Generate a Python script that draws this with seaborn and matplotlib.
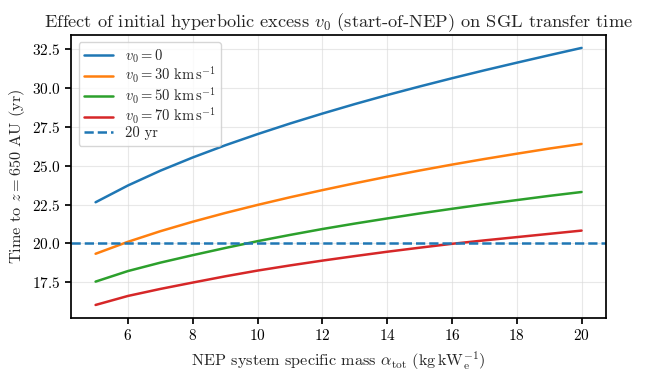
import numpy as np
import pandas as pd
import matplotlib
matplotlib.use("Agg")
import matplotlib.pyplot as plt
import seaborn as sns

# values
alpha = [5, 6, 7, 8, 9, 10, 11, 12, 13, 14, 15, 16, 17, 18, 19, 20]
t_v0 = [22.65, 23.73, 24.68, 25.53, 26.31, 27.03, 27.71, 28.35, 28.96, 29.54, 30.09, 30.62, 31.13, 31.62, 32.10, 32.57]
t_v30 = [19.34, 20.11, 20.79, 21.40, 21.96, 22.48, 22.97, 23.43, 23.87, 24.29, 24.69, 25.07, 25.43, 25.77, 26.10, 26.40]
t_v50 = [17.55, 18.23, 18.77, 19.25, 19.71, 20.15, 20.55, 20.93, 21.28, 21.61, 21.93, 22.23, 22.52, 22.79, 23.06, 23.31]
t_v70 = [16.05, 16.63, 17.08, 17.49, 17.89, 18.26, 18.59, 18.90, 19.19, 19.47, 19.73, 19.98, 20.20, 20.41, 20.62, 20.83]
labels = [r"$v_0 = 0$",
          r"$v_0 = 30\ \mathrm{km\,s^{-1}}$",
          r"$v_0 = 50\ \mathrm{km\,s^{-1}}$",
          r"$v_0 = 70\ \mathrm{km\,s^{-1}}$"]
target = 20

df = pd.concat([
    pd.DataFrame({"alpha": alpha, "t": t, "case": lab})
    for t, lab in zip([t_v0, t_v30, t_v50, t_v70], labels)
])

sns.set_theme(style="ticks")
plt.rcParams.update({
    "font.family": "serif",
    "font.serif": ["cmr10"],
    "mathtext.fontset": "cm",
    "axes.formatter.use_mathtext": True,
    "axes.unicode_minus": False,
    "font.size": 11,
    "axes.edgecolor": "black",
    "xtick.color": "black",
    "ytick.color": "black",
})

fig, ax = plt.subplots(figsize=(6.48, 3.77), dpi=100)
fig.subplots_adjust(left=0.11, right=0.935, top=0.907, bottom=0.157)

sns.lineplot(data=df, x="alpha", y="t", hue="case", palette=sns.color_palette("tab10", 4),
             linewidth=1.8, ax=ax)
ax.axhline(target, ls="--", color="#1f77b4", lw=1.8, label="20 yr")

ax.grid(True, color="#d9d9d9", alpha=0.6, linewidth=0.8)
ax.set_xticks([6, 8, 10, 12, 14, 16, 18, 20])
ax.set_title(r"Effect of initial hyperbolic excess $v_0$ (start-of-NEP) on SGL transfer time", fontsize=13.2)
ax.set_xlabel(r"NEP system specific mass $\alpha_{\mathrm{tot}}$ ($\mathrm{kg\,kW_e^{-1}}$)", fontsize=11.7)
ax.set_ylabel(r"Time to $z = 650$ AU (yr)", fontsize=11.7)
ax.tick_params(labelsize=11, length=4)
ax.legend(loc="upper left", fontsize=10.5, framealpha=0.8, edgecolor="#cccccc", fancybox=True,
          labelspacing=0.0, borderpad=0.35, borderaxespad=0.5, handlelength=2.0)

plt.savefig("out.png", dpi=100)
